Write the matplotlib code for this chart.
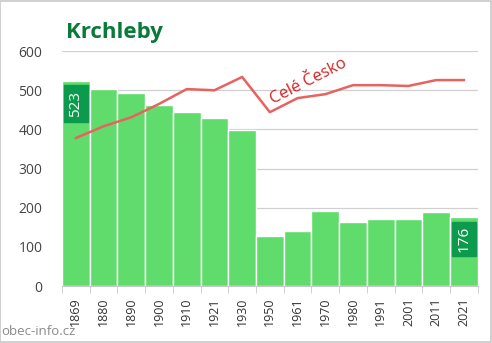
import matplotlib
matplotlib.use("Agg")
import matplotlib.pyplot as plt
from matplotlib.patches import Rectangle
import numpy as np

# sčítání lidu - Krchleby
roky = ["1869", "1880", "1890", "1900", "1910", "1921", "1930", "1950",
        "1961", "1970", "1980", "1991", "2001", "2011", "2021"]
obyvatele = [523, 503, 493, 462, 444, 429, 398, 128, 140, 191, 163, 171, 171, 189, 176]
# vývoj celého Česka přepočtený na měřítko obce
cesko = [378, 408, 431, 465, 503, 500, 534, 444, 480, 490, 513, 513, 511, 526, 526]

plt.rcParams['font.family'] = ['Open Sans', 'DejaVu Sans']

fig = plt.figure(figsize=(4.92, 3.43), dpi=100)
ax = fig.add_axes([0.126, 0.166, 0.845, 0.685])

x = np.arange(len(roky))
ax.bar(x, obyvatele, width=1.0, color="#5fdc6b", edgecolor="white", linewidth=1.0, zorder=2)
ax.plot(x, cesko, color="#e8625f", linewidth=1.8, zorder=3)

ax.set_xlim(-0.5, len(roky) - 0.5)
ax.set_ylim(0, 600)
ax.set_yticks(range(0, 601, 100))
ax.tick_params(axis="y", length=0, labelsize=10, labelcolor="#444444", pad=14)
ax.yaxis.grid(True, color="#d0d0d0", linewidth=0.9, zorder=0)
ax.set_axisbelow(True)

ax.set_xticks(x)
ax.set_xticklabels(roky, rotation=90, fontsize=9, color="#333333")
ax.set_xticks(np.arange(-0.5, len(roky)), minor=True)
ax.tick_params(axis="x", which="major", length=0, pad=8)
ax.tick_params(axis="x", which="minor", length=5, color="#c8c8c8")

for s in ["top", "right", "left"]:
    ax.spines[s].set_visible(False)
ax.spines["bottom"].set_color("#c8c8c8")

# popisky první a poslední hodnoty
for i in [0, len(roky) - 1]:
    v = obyvatele[i]
    if v > 300:
        y0, y1 = v - 105, v - 10
    else:
        y0, y1 = v - 99, v - 13
    ax.add_patch(Rectangle((x[i] - 0.43, y0), 0.86, y1 - y0,
                           color="#0c9b4c", zorder=4))
    ax.text(x[i], (y0 + y1) / 2, str(v), rotation=90, color="white",
            fontsize=11, ha="center", va="center", zorder=5)

ax.text(6.9, 455, "Celé Česko", rotation=27, color="#d62020", fontsize=12,
        ha="left", va="bottom", zorder=5)

fig.text(0.135, 0.905, "Krchleby", fontsize=16, fontweight="bold", color="#0a7a3a",
         ha="left", va="center")
fig.text(0.003, 0.015, "obec-info.cz", fontsize=9.5, color="#8a8a8a", ha="left", va="bottom")

fig.patches.append(Rectangle((0.001, 0.002), 0.997, 0.995, transform=fig.transFigure,
                             fill=False, edgecolor="#c8c8c8", linewidth=1.2))

fig.savefig("out.png", dpi=100)
